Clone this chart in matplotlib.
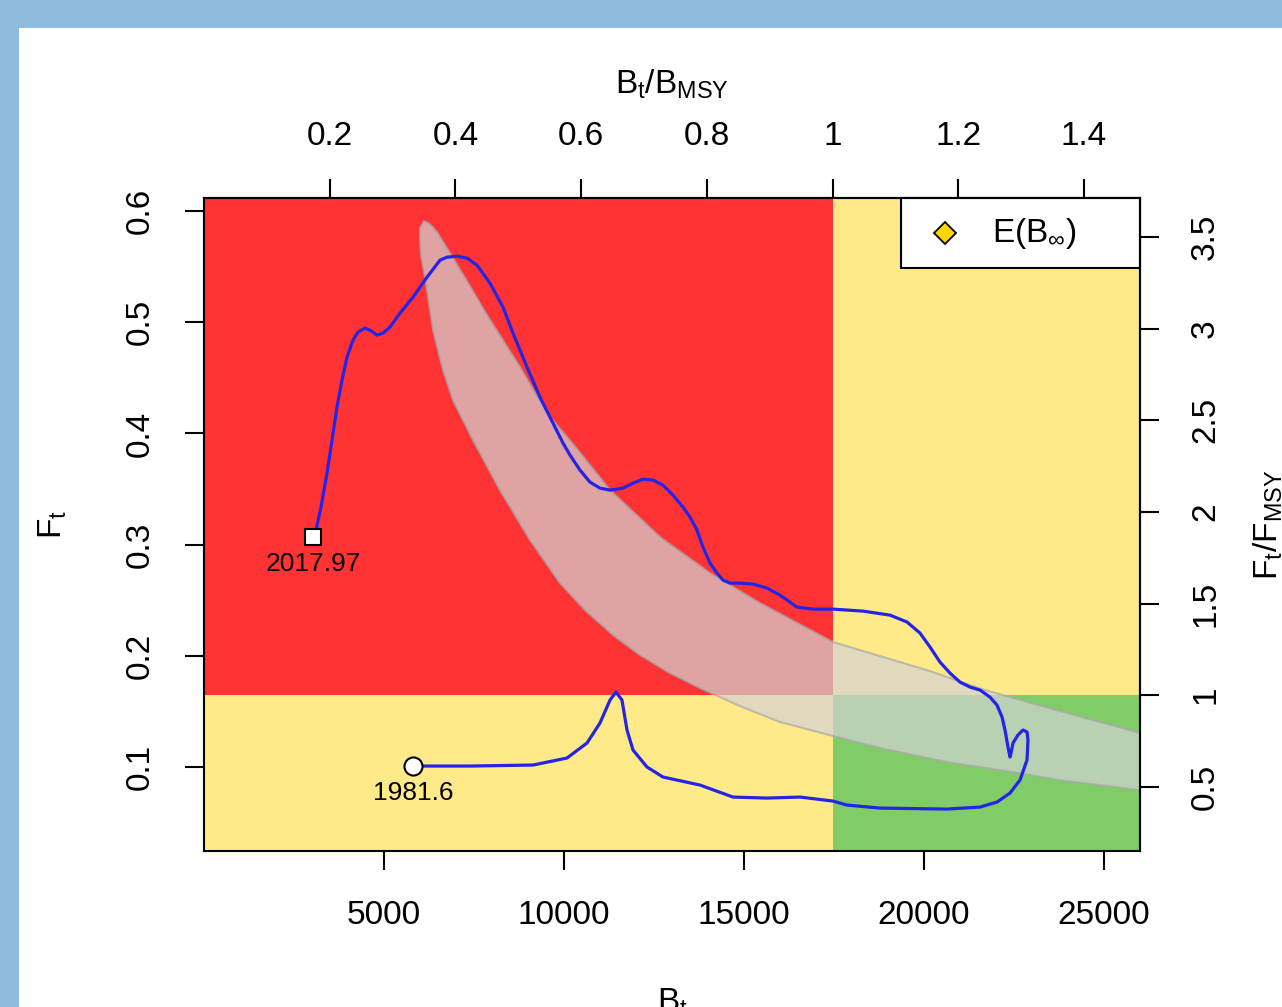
import matplotlib
matplotlib.use("Agg")
import matplotlib.pyplot as plt
from matplotlib.lines import Line2D
from matplotlib.patches import Rectangle, Polygon
import numpy as np

plt.rcParams["font.family"] = ["Liberation Sans", "DejaVu Sans"]
plt.rcParams["mathtext.default"] = "regular"

# reference points
Bmsy = 17460
Fmsy = 0.1647

# biomass / fishing mortality trajectory, in time order (1981.6 -> 2017.97)
B_traj = [5806, 7389, 9139, 10083, 10639, 11000, 11278, 11444, 11611, 11750,
          11917, 12306, 12750, 13778, 14694, 15639, 16556, 17472, 17861, 18778,
          20639, 21556, 22028, 22389, 22667, 22861, 22889, 22861, 22750, 22611,
          22472, 22417, 22389, 22333, 22250, 22167, 22028, 21833, 21556, 21278,
          21000, 20722, 20444, 20167, 19889, 19528, 19056, 18306, 17472, 16917,
          16472, 16278, 16000, 15639, 15250, 14889, 14611, 14417, 14250, 14056,
          13861, 13694, 13500, 13306, 13028, 12750, 12472, 12194, 11917, 11639,
          11278, 11000, 10722, 10444, 10167, 9972, 9694, 9333, 8972, 8583,
          8306, 7944, 7583, 7306, 7028, 6750, 6556, 6194, 5806, 5444,
          5167, 4972, 4806, 4611, 4472, 4278, 4139, 3972, 3833, 3694,
          3556, 3417, 3250, 3111, 3028]
F_traj = [0.1009, 0.1009, 0.1018, 0.1081, 0.1216, 0.1396, 0.1602, 0.1674, 0.1602, 0.1333,
          0.1153, 0.1000, 0.0910, 0.0838, 0.0730, 0.0721, 0.0730, 0.0694, 0.0658, 0.0631,
          0.0622, 0.0640, 0.0685, 0.0766, 0.0883, 0.1063, 0.1243, 0.1315, 0.1333, 0.1288,
          0.1216, 0.1126, 0.1090, 0.1180, 0.1333, 0.1450, 0.1557, 0.1629, 0.1692, 0.1719,
          0.1764, 0.1845, 0.1944, 0.2079, 0.2205, 0.2304, 0.2366, 0.2402, 0.2420, 0.2420,
          0.2438, 0.2483, 0.2546, 0.2609, 0.2645, 0.2654, 0.2654, 0.2681, 0.2744, 0.2834,
          0.2978, 0.3131, 0.3248, 0.3337, 0.3445, 0.3535, 0.3580, 0.3589, 0.3553, 0.3508,
          0.3490, 0.3508, 0.3562, 0.3670, 0.3805, 0.3913, 0.4093, 0.4326, 0.4596, 0.4902,
          0.5135, 0.5351, 0.5513, 0.5576, 0.5594, 0.5585, 0.5558, 0.5405, 0.5225, 0.5081,
          0.4956, 0.4902, 0.4884, 0.4929, 0.4947, 0.4911, 0.4839, 0.4686, 0.4479, 0.4236,
          0.3940, 0.3643, 0.3337, 0.3131, 0.3068]
first_year = "1981.6"
last_year = "2017.97"

# grey confidence band: upper/right edge and lower/left edge, both from the tip
band_up_B = [6111, 6278, 6472, 6833, 7306, 7861, 8778, 9528, 10389, 11278,
             12667, 14056, 15444, 17472, 18778, 20167, 21694, 23778, 26000]
band_up_F = [0.5909, 0.5882, 0.5810, 0.5621, 0.5369, 0.5064, 0.4596, 0.4182, 0.3850, 0.3490,
             0.3068, 0.2744, 0.2474, 0.2124, 0.1998, 0.1863, 0.1692, 0.1503, 0.1306]
band_lo_B = [6111, 6000, 6000, 6028, 6167, 6361, 6639, 6917, 7472, 8222,
             9056, 9889, 10583, 11361, 12111, 12944, 13778, 14889, 16000, 17472,
             18778, 20639, 22472, 23778, 26000]
band_lo_F = [0.5909, 0.5846, 0.5738, 0.5603, 0.5351, 0.4929, 0.4569, 0.4299, 0.3940, 0.3490,
             0.3041, 0.2654, 0.2411, 0.2187, 0.2007, 0.1845, 0.1710, 0.1548, 0.1405, 0.1279,
             0.1171, 0.1045, 0.0955, 0.0883, 0.0793]

xticks = [5000, 10000, 15000, 20000, 25000]
yticks = [0.1, 0.2, 0.3, 0.4, 0.5, 0.6]
top_ticks = [0.2, 0.4, 0.6, 0.8, 1, 1.2, 1.4]
right_ticks = [0.5, 1, 1.5, 2, 2.5, 3, 3.5]

red = "#ff3333"
yellow = "#ffea8a"
green = "#80cc66"
fs = 24

fig = plt.figure(figsize=(12.82, 10.07), dpi=100)
fig.patch.set_facecolor("#8fbbdf")
fig.patches.append(Rectangle((19 / 1282, 0), 1, 979 / 1007, transform=fig.transFigure,
                             facecolor="white", edgecolor="none", zorder=-5))

ax = fig.add_axes([204 / 1282, 1 - 851 / 1007, 936 / 1282, 653 / 1007])
ax.set_xlim(0, 26000)
ax.set_ylim(0.0245, 0.6117)

# kobe quadrants
big = 1e6
ax.add_patch(Rectangle((-big, Fmsy), big + Bmsy, 10, facecolor=red, edgecolor="none", zorder=0))
ax.add_patch(Rectangle((Bmsy, Fmsy), big, 10, facecolor=yellow, edgecolor="none", zorder=0))
ax.add_patch(Rectangle((-big, -10), big + Bmsy, 10 + Fmsy, facecolor=yellow, edgecolor="none", zorder=0))
ax.add_patch(Rectangle((Bmsy, -10), big, 10 + Fmsy, facecolor=green, edgecolor="none", zorder=0))

# confidence band
poly_xy = np.column_stack([band_up_B + band_lo_B[::-1], band_up_F + band_lo_F[::-1]])
ax.add_patch(Polygon(poly_xy, closed=True, facecolor="#d3d3d3", alpha=0.7,
                     edgecolor="#a8a8a8", linewidth=1.5, joinstyle="round", zorder=1))

# trajectory
ax.plot(B_traj, F_traj, color="#2424e8", lw=2.3, zorder=3,
        solid_capstyle="round", solid_joinstyle="round")
ax.plot(B_traj[0], F_traj[0], "o", ms=13, mfc="white", mec="black", mew=1.5, zorder=4)
ax.plot(B_traj[-1], F_traj[-1], "s", ms=11, mfc="white", mec="black", mew=1.5, zorder=4)
ax.annotate(first_year, (B_traj[0], F_traj[0]), xytext=(0, -19.5), textcoords="offset points",
            ha="center", va="center", fontsize=19, zorder=5)
ax.annotate(last_year, (B_traj[-1], F_traj[-1]), xytext=(0, -19.5), textcoords="offset points",
            ha="center", va="center", fontsize=19, zorder=5)

# legend (R style, top right)
ax.add_patch(Rectangle((0.7447, 0.8928), 0.2553, 0.1072, transform=ax.transAxes,
                       facecolor="white", edgecolor="black", lw=1.5, zorder=6, clip_on=False))
ax.add_line(Line2D([0.7917], [0.9464], transform=ax.transAxes, marker="D", ms=11,
                   mfc="#ffd700", mec="black", mew=1.3, zorder=7))
ax.text(0.8419, 0.9464, r"E(B$_\infty$)", transform=ax.transAxes, fontsize=fs,
        va="center", ha="left", zorder=7)

# axes
ax.set_xticks(xticks)
ax.set_xticklabels([str(v) for v in xticks])
ax.set_yticks(yticks)
ax.set_yticklabels([f"{v:g}" for v in yticks], rotation=90, va="center")
ax.tick_params(length=14, width=1.5, labelsize=fs, pad=21)
for s in ax.spines.values():
    s.set_linewidth(1.5)
    s.set_zorder(8)
ax.set_xlabel(r"B$_t$", fontsize=fs, labelpad=40)
ax.set_ylabel(r"F$_t$", fontsize=fs, labelpad=40)

top = ax.secondary_xaxis("top", functions=(lambda b: b / Bmsy, lambda r: r * Bmsy))
top.set_xticks(top_ticks)
top.set_xticklabels([f"{v:g}" for v in top_ticks])
top.tick_params(length=14, width=1.5, labelsize=fs, pad=19)
top.spines["top"].set_linewidth(1.5)
top.set_xlabel(r"B$_t$/B$_{MSY}$", fontsize=fs, labelpad=20)

right = ax.secondary_yaxis("right", functions=(lambda f: f / Fmsy, lambda r: r * Fmsy))
right.set_yticks(right_ticks)
right.set_yticklabels([f"{v:g}" for v in right_ticks], rotation=90, va="center")
right.tick_params(length=14, width=1.5, labelsize=fs, pad=22)
right.spines["right"].set_linewidth(1.5)
right.set_ylabel(r"F$_t$/F$_{MSY}$", fontsize=fs, labelpad=22)

fig.savefig("out.png", dpi=100, facecolor=fig.get_facecolor())
